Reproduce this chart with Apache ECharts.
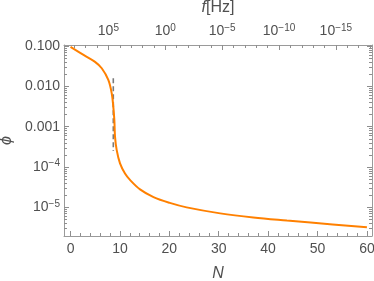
<!DOCTYPE html>
<html><head><meta charset="utf-8">
<script src="https://cdn.jsdelivr.net/npm/echarts@6/dist/echarts.min.js"></script>
<style>html,body{margin:0;padding:0;background:#fff}#c{width:374px;height:281px}</style>
</head><body><div id="c"></div>
<script>
// ---- data ----
const nValues   = [0, 2.8, 4.96, 6.32, 7.65, 8.34, 8.66, 8.87, 9.01, 9.35, 10.02, 11.03, 12.04, 14.07, 16.8, 20.1, 23.5, 30.3, 37, 43.8, 48.6, 60];
const phiValues = [0.0955, 0.0589, 0.0407, 0.0282, 0.0145, 0.00676, 0.00316, 0.00148, 0.000562, 0.000263, 0.000123, 6.9e-5, 4.8e-5, 2.8e-5, 1.8e-5, 1.29e-5, 1.0e-5, 7.1e-6, 5.6e-6, 4.7e-6, 4.2e-6, 3.2e-6];
const markerN   = [8.66, 8.66];
const markerPhi = [0.016, 0.00025];
const nTicks      = [0, 10, 20, 30, 40, 50, 60];
const nMinorTicks = [2,4,6,8,12,14,16,18,22,24,26,28,32,34,36,38,42,44,46,48,52,54,56,58];
const phiTicks    = [1e-5, 1e-4, 1e-3, 1e-2, 1e-1];
const phiMinorTicks = [3e-6,4e-6,5e-6,6e-6,7e-6,8e-6,9e-6,
  2e-5,3e-5,4e-5,5e-5,6e-5,7e-5,8e-5,9e-5,
  2e-4,3e-4,4e-4,5e-4,6e-4,7e-4,8e-4,9e-4,
  2e-3,3e-3,4e-3,5e-3,6e-3,7e-3,8e-3,9e-3,
  2e-2,3e-2,4e-2,5e-2,6e-2,7e-2,8e-2,9e-2];
const fTicks      = [5, 0, -5, -10, -15];           // log10(f/Hz)
const fMinorTicks = [8,7,6,4,3,2,1,-1,-2,-3,-4,-6,-7,-8,-9,-11,-12,-13,-14,-16,-17,-18];
const log10fAtN0  = 8.33;

// ---- axis extents ----
const nMin = -1.32, nMax = 61.03;
const phiMin = 1.95e-6, phiMax = 0.1065;
const fLeft  = log10fAtN0 - nMin / Math.LN10;
const fRight = log10fAtN0 - nMax / Math.LN10;

const FRAME = '#9a9a9a', TICK = '#8e8e8e', TEXT = '#505050', FONT = 'Liberation Sans';
const rich = {
  b: {fontSize: 14, color: TEXT, fontFamily: FONT},
  s: {fontSize: 10, color: TEXT, fontFamily: FONT, verticalAlign: 'bottom', padding: [0, 0, 7, 0]}
};
const sup = e => '{b|10}{s|' + (e < 0 ? '\u2212' + (-e) : e) + '}';
const line = show => ({show: show, onZero: false, lineStyle: {color: FRAME, width: 1}});
const tick = (len, vals) => ({show: true, inside: true, length: len, customValues: vals, lineStyle: {color: TICK, width: 1}});
const gridBox = {left: 64, right: 2, top: 45, bottom: 45, outerBoundsMode: 'none'};

function nAxis(gi, extra) {
  return Object.assign({type: 'value', gridIndex: gi, position: 'bottom', min: nMin, max: nMax, splitLine: {show: false}}, extra);
}
function fAxis(gi, extra) {
  return Object.assign({type: 'value', gridIndex: gi, position: 'top', inverse: true, min: fRight, max: fLeft, splitLine: {show: false}}, extra);
}
function phiAxis(gi, pos, extra) {
  return Object.assign({type: 'log', logBase: 10, gridIndex: gi, position: pos, min: phiMin, max: phiMax, splitLine: {show: false}}, extra);
}

const chart = echarts.init(document.getElementById('c'), null, {renderer: 'canvas'});
chart.setOption({
  animation: false,
  backgroundColor: '#fff',
  grid: [gridBox, Object.assign({}, gridBox)],
  xAxis: [
    nAxis(0, {
      name: 'N', nameLocation: 'middle', nameGap: 30,
      nameTextStyle: {fontSize: 16, fontStyle: 'italic', color: TEXT, fontFamily: FONT},
      axisLine: line(true), axisTick: tick(5, nTicks),
      axisLabel: {show: true, customValues: nTicks, margin: 6, fontSize: 14, color: TEXT, fontFamily: FONT}
    }),
    fAxis(0, {
      name: '{i|f}[Hz]', nameLocation: 'middle', nameGap: 29,
      nameTextStyle: {fontSize: 16, color: TEXT, fontFamily: FONT,
        rich: {i: {fontSize: 16, fontStyle: 'italic', color: TEXT, fontFamily: FONT}}},
      axisLine: line(true), axisTick: tick(5, fTicks),
      axisLabel: {show: true, customValues: fTicks, margin: 5, formatter: v => sup(Math.round(v)), rich: rich}
    }),
    nAxis(1, {axisLine: line(false), axisTick: tick(3, nMinorTicks), axisLabel: {show: false}}),
    fAxis(1, {axisLine: line(false), axisTick: tick(3, fMinorTicks), axisLabel: {show: false}})
  ],
  yAxis: [
    phiAxis(0, 'left', {
      name: '\u03d5', nameLocation: 'middle', nameGap: 45, nameRotate: 90,
      nameTextStyle: {fontSize: 16, fontStyle: 'italic', color: TEXT, fontFamily: FONT},
      axisLine: line(true), axisTick: tick(5, phiTicks),
      axisLabel: {show: true, customValues: phiTicks, margin: 4,
        formatter: v => { const e = Math.round(Math.log10(v)); return e >= -3 ? '{b|' + v.toFixed(3) + '}' : sup(e); },
        rich: rich}
    }),
    phiAxis(0, 'right', {axisLine: line(true), axisTick: tick(5, phiTicks), axisLabel: {show: false}}),
    phiAxis(1, 'left', {axisLine: line(false), axisTick: tick(3, phiMinorTicks), axisLabel: {show: false}}),
    phiAxis(1, 'right', {axisLine: line(false), axisTick: tick(3, phiMinorTicks), axisLabel: {show: false}})
  ],
  series: [
    {
      type: 'line', xAxisIndex: 0, yAxisIndex: 0, showSymbol: false, silent: true,
      data: markerN.map((n, i) => [n, markerPhi[i]]),
      lineStyle: {color: '#7a7a7a', width: 1.6, type: [5, 3]}
    },
    {
      type: 'line', xAxisIndex: 0, yAxisIndex: 0, showSymbol: false, silent: true,
      smooth: 0.35,
      data: nValues.map((n, i) => [n, phiValues[i]]),
      lineStyle: {color: '#ff8000', width: 2}
    }
  ]
});
</script>
</body></html>
